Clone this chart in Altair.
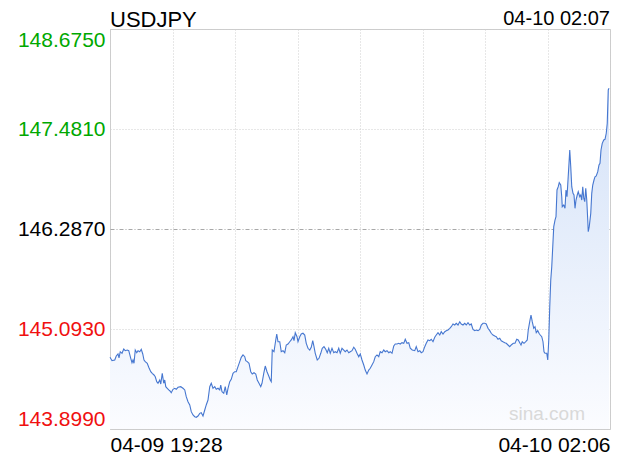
import altair as alt
import pandas as pd

# minutes since 04-09 19:28
minutes = [0, 1.6, 3.8, 5.0, 6.4, 7.2, 8.2, 9.6, 11.0, 12.2, 13.8, 15.0, 16.6, 17.6, 18.4, 19.2,
           20.2, 21.4, 22.4, 23.8, 25.0, 26.2, 27.2, 28.2, 29.8, 31.0, 32.6, 33.8, 35.2, 36.2,
           37.4, 38.4, 39.8, 40.6, 41.8, 43.0, 43.8, 44.6, 45.8, 47.0, 48.0, 49.0, 50.4, 51.8,
           53.0, 54.4, 56.6, 58.4, 59.8, 61.0, 62.4, 63.8, 65.0, 66.4, 67.8, 69.0, 70.4, 71.8,
           73.0, 74.4, 75.8, 77.0, 78.4, 79.8, 81.0, 82.4, 83.8, 85.0, 86.4, 87.8, 88.6, 89.6,
           91.0, 92.2, 93.4, 94.4, 95.8, 97.0, 98.4, 99.8, 101.0, 102.4, 103.8, 105.0, 106.4,
           107.8, 108.6, 109.8, 111.2, 112.6, 113.8, 115.2, 116.6, 117.8, 119.2, 120.6, 121.6,
           123.0, 124.2, 125.6, 127.0, 128.2, 129.0, 129.8, 131.2, 132.6, 133.4, 134.4, 135.8,
           137.0, 138.4, 139.8, 141.0, 142.4, 143.8, 145.0, 146.4, 147.2, 148.2, 149.6, 150.4,
           151.8, 153.0, 154.4, 155.8, 157.0, 158.4, 159.8, 161.0, 162.2, 163.2, 164.2, 165.8,
           167.2, 168.6, 169.8, 171.2, 172.6, 173.8, 175.0, 176.2, 177.6, 179.0, 180.2, 181.6,
           183.0, 184.2, 185.6, 187.0, 188.2, 189.6, 191.0, 192.2, 193.6, 195.0, 196.2, 197.6,
           199.0, 200.2, 201.6, 203.0, 204.2, 205.6, 207.0, 208.2, 209.6, 211.0, 212.2, 213.6,
           215.0, 216.2, 217.6, 219.0, 220.2, 221.6, 223.0, 224.2, 225.6, 227.0, 228.2, 229.6,
           231.0, 232.2, 233.6, 235.0, 236.2, 237.6, 239.0, 240.2, 241.8, 243.8, 245.0, 246.4,
           247.8, 249.0, 250.4, 251.8, 253.0, 254.4, 255.8, 257.0, 258.4, 259.8, 261.0, 262.4,
           263.8, 265.0, 266.4, 267.8, 269.0, 270.4, 271.8, 273.0, 274.4, 275.8, 277.0, 278.4,
           279.8, 281.0, 282.4, 283.8, 285.0, 286.4, 287.8, 289.0, 290.4, 291.8, 293.0, 294.4,
           295.8, 297.0, 298.4, 299.8, 301.0, 302.4, 303.8, 305.0, 306.4, 307.8, 309.0, 310.4,
           311.8, 313.0, 314.4, 315.8, 317.0, 318.4, 319.8, 321.0, 322.6, 324.0, 325.4, 326.6,
           328.0, 328.8, 329.8, 331.2, 332.6, 333.8, 334.6, 336.0, 336.8, 337.8, 339.0, 340.0,
           341.0, 342.2, 343.2, 344.2, 345.4, 346.4, 347.2, 348.0, 349.4, 350.2, 351.0, 351.8,
           352.6, 353.4, 354.2, 355.0, 356.0, 356.8, 357.6, 358.6, 359.4, 360.6, 361.4, 361.8,
           363.0, 364.0, 364.8, 365.6, 366.4, 367.2, 367.8, 368.6, 369.4, 370.4, 371.2, 372.0,
           372.8, 373.8, 374.6, 375.8, 376.6, 377.4, 378.2, 379.0, 379.8, 380.6, 381.4, 382.2,
           382.6, 383.4, 384.6, 385.4, 386.2, 387.2, 388.0, 389.0, 390.2, 391.2, 392.0, 392.8,
           393.8, 395.0, 396.0, 397.0, 397.8, 398.6, 399.2]

prices = [144.755, 144.715, 144.723, 144.771, 144.795, 144.747, 144.822, 144.803, 144.854, 144.834,
          144.842, 144.834, 144.743, 144.691, 144.723, 144.684, 144.842, 144.810, 144.834, 144.822,
          144.851, 144.795, 144.723, 144.703, 144.684, 144.636, 144.583, 144.564, 144.544, 144.523,
          144.464, 144.445, 144.484, 144.436, 144.564, 144.445, 144.484, 144.404, 144.385, 144.365,
          144.353, 144.332, 144.373, 144.385, 144.373, 144.397, 144.404, 144.385, 144.365, 144.285,
          144.225, 144.186, 144.106, 144.066, 144.046, 144.039, 144.054, 144.086, 144.094, 144.054,
          144.126, 144.186, 144.245, 144.404, 144.445, 144.385, 144.404, 144.373, 144.385, 144.365,
          144.424, 144.344, 144.325, 144.404, 144.305, 144.385, 144.464, 144.492, 144.564, 144.583,
          144.583, 144.643, 144.703, 144.755, 144.783, 144.762, 144.715, 144.703, 144.684, 144.583,
          144.556, 144.571, 144.556, 144.484, 144.445, 144.404, 144.445, 144.564, 144.651, 144.583,
          144.532, 144.484, 144.464, 144.842, 144.822, 144.962, 145.033, 144.941, 144.941, 144.822,
          144.834, 144.810, 144.902, 144.914, 144.941, 144.962, 145.001, 144.953, 145.049, 145.001,
          144.941, 145.001, 145.033, 145.042, 145.021, 144.922, 144.863, 144.842, 144.875, 144.953,
          144.882, 144.803, 144.723, 144.743, 144.803, 144.863, 144.882, 144.851, 144.810, 144.863,
          144.803, 144.863, 144.810, 144.822, 144.810, 144.863, 144.803, 144.863, 144.842, 144.822,
          144.842, 144.810, 144.822, 144.834, 144.875, 144.851, 144.803, 144.762, 144.795, 144.723,
          144.663, 144.603, 144.556, 144.603, 144.624, 144.663, 144.703, 144.762, 144.783, 144.762,
          144.822, 144.810, 144.842, 144.822, 144.834, 144.810, 144.822, 144.803, 144.890, 144.914,
          144.914, 144.922, 144.914, 144.930, 144.922, 144.970, 144.922, 144.930, 144.863, 144.842,
          144.834, 144.882, 144.822, 144.834, 144.810, 144.822, 144.882, 144.922, 144.962, 144.953,
          144.970, 144.941, 144.994, 145.021, 145.049, 145.021, 145.061, 145.033, 145.061, 145.073,
          145.081, 145.101, 145.120, 145.153, 145.141, 145.161, 145.141, 145.180, 145.153, 145.141,
          145.161, 145.141, 145.168, 145.141, 145.153, 145.089, 145.073, 145.081, 145.073, 145.089,
          145.141, 145.161, 145.161, 145.153, 145.101, 145.073, 145.042, 145.021, 145.009, 145.001,
          144.970, 144.982, 144.953, 144.941, 144.930, 144.922, 144.902, 144.882, 144.902, 144.922,
          144.922, 144.970, 144.962, 144.922, 144.902, 144.941, 144.922, 144.941, 144.962, 145.081,
          145.200, 145.260, 145.180, 145.101, 145.120, 145.049, 145.073, 145.042, 145.021, 145.001,
          144.941, 144.822, 144.803, 144.803, 144.723, 144.962, 145.359, 145.678, 145.837, 146.076,
          146.315, 146.394, 146.434, 146.753, 146.792, 146.840, 146.812, 146.673, 146.553, 146.574,
          146.534, 146.753, 146.673, 146.872, 147.072, 147.230, 147.031, 146.792, 146.713, 146.693,
          146.534, 146.633, 146.693, 146.732, 146.673, 146.693, 146.633, 146.792, 146.654, 146.613,
          146.773, 146.633, 146.394, 146.255, 146.315, 146.474, 146.713, 146.812, 146.872, 146.911,
          146.920, 146.971, 147.051, 147.072, 147.230, 147.310, 147.350, 147.358, 147.430, 147.549,
          147.947, 147.967]

prev_close = 146.287
y_ticks = [143.899, 145.093, 146.287, 147.481, 148.675]
x_ticks = [0, 50, 100, 150, 200, 250, 300, 350, 400]
x_first_label = "04-09 19:28"
x_last_label = "04-10 02:06"
title_text = "USDJPY"
time_text = "04-10 02:07"
watermark = "sina.com"

FONT = "Liberation Sans"

df = pd.DataFrame({"m": minutes, "p": prices})
df["base"] = y_ticks[0]

x_enc = alt.X(
    "m:Q",
    scale=alt.Scale(domain=[x_ticks[0], x_ticks[-1]], nice=False, zero=False),
    axis=alt.Axis(
        values=x_ticks, title=None, grid=True, gridColor="#cfcfcf", gridDash=[1, 2],
        ticks=False, tickSize=0, domain=False, labelFlush=True, labelPadding=5,
        labelFont=FONT, labelFontSize=21, labelColor="#000000",
        labelExpr=f"datum.value == {x_ticks[0]} ? '{x_first_label}' : (datum.value == {x_ticks[-1]} ? '{x_last_label}' : '')",
    ),
)

y_scale = alt.Scale(domain=[y_ticks[0], y_ticks[-1]], nice=False, zero=False)
y_enc = alt.Y(
    "p:Q",
    scale=y_scale,
    axis=alt.Axis(
        values=y_ticks, title=None, format=".4f", grid=True,
        gridColor={"condition": {"test": f"abs(datum.value - {prev_close}) < 0.001", "value": "#a8a8a8"}, "value": "#cfcfcf"},
        gridDash={"condition": {"test": f"abs(datum.value - {prev_close}) < 0.001", "value": [4, 2, 1, 2]}, "value": [1, 2]},
        ticks=False, tickSize=0, domain=False, labelFlush=True, labelPadding=5,
        labelFont=FONT, labelFontSize=21,
        labelColor={"condition": [
            {"test": f"datum.value > {prev_close} + 0.001", "value": "#00a800"},
            {"test": f"datum.value < {prev_close} - 0.001", "value": "#f01010"},
        ], "value": "#000000"},
    ),
)

gradient = alt.Gradient(
    gradient="linear",
    stops=[alt.GradientStop(color="#d4e2f8", offset=0), alt.GradientStop(color="#fbfcff", offset=1)],
    x1=1, x2=1, y1=0, y2=1,
)

area = alt.Chart(df).mark_area(color=gradient).encode(
    x=x_enc, y=y_enc, y2=alt.Y2("base:Q")
)
line = alt.Chart(df).mark_line(color="#4677d0", strokeWidth=1.1).encode(x="m:Q", y="p:Q")

ann = pd.DataFrame({"t": [time_text]})
time_mark = alt.Chart(ann).mark_text(
    align="right", baseline="alphabetic", font=FONT, fontSize=20, color="#000000"
).encode(x=alt.value(500), y=alt.value(-4), text="t:N")

ttl = pd.DataFrame({"t": [title_text]})
title_mark = alt.Chart(ttl).mark_text(
    align="left", baseline="alphabetic", font=FONT, fontSize=22, color="#000000"
).encode(x=alt.value(0), y=alt.value(-2), text="t:N")

wm = pd.DataFrame({"t": [watermark]})
wm_mark = alt.Chart(wm).mark_text(
    align="right", baseline="alphabetic", font=FONT, fontSize=19, color="#d9d9d9"
).encode(x=alt.value(475), y=alt.value(391), text="t:N")

chart = alt.layer(area, line, wm_mark, title_mark, time_mark).properties(
    width=500, height=400,
    autosize=alt.AutoSizeParams(type="none"),
    padding={"left": 102, "top": 21, "right": 2, "bottom": 30},
).configure_view(stroke="#cccccc", strokeWidth=1)

chart.save("out.html", embed_options={"renderer": "svg", "actions": False})
